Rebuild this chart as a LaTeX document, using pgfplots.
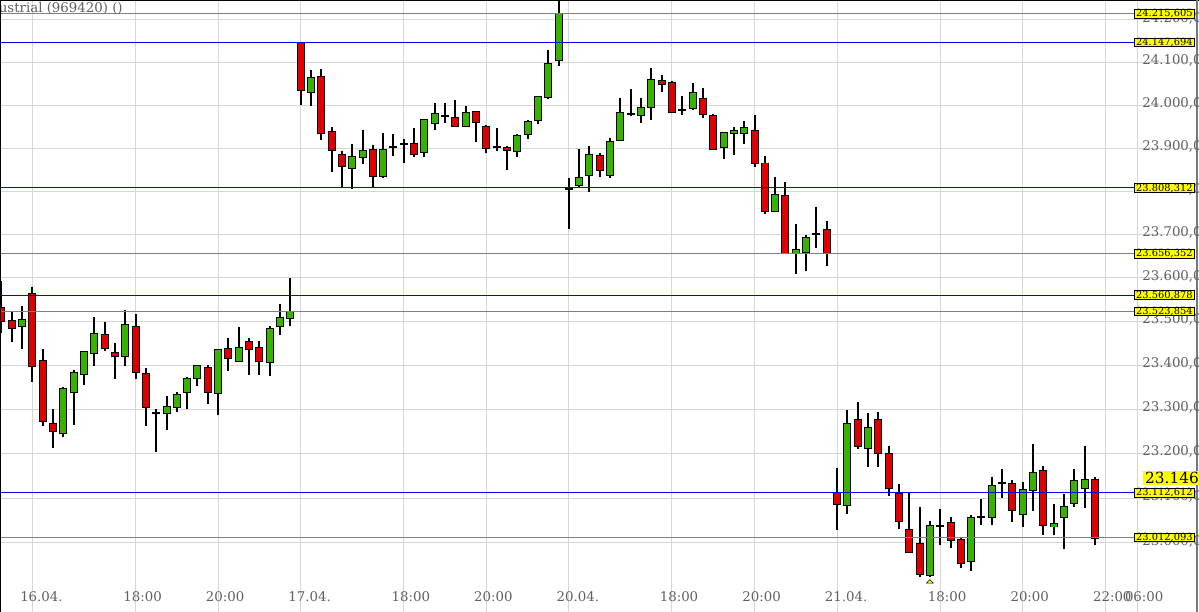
\documentclass[border=0pt]{standalone}
\usepackage{pgfplots}
\pgfplotsset{compat=1.18}
\usepackage{pgfplotstable}
\usepackage{fontspec}
\setmainfont{DejaVu Serif}
\definecolor{upgreen}{RGB}{56,178,0}
\definecolor{downred}{RGB}{222,0,0}
\definecolor{lvlblue}{RGB}{0,0,235}
\definecolor{lvlgray}{RGB}{128,128,128}
\definecolor{gridgray}{RGB}{214,214,214}
\definecolor{txtgray}{RGB}{95,95,95}
\definecolor{boxyellow}{RGB}{255,255,0}
\definecolor{framegray}{RGB}{120,120,120}

% OHLC, 15-minute candles (index x)
\pgfplotstableread{
x o h l c
0 23532 23594 23474 23503
1 23503 23524 23453 23487
2 23490 23536 23437 23505
3 23563 23581 23362 23400
4 23410 23438 23263 23275
5 23269 23301 23214 23252
6 23248 23351 23238 23348
7 23341 23392 23265 23384
8 23382 23433 23357 23432
9 23430 23511 23400 23473
10 23470 23500 23434 23440
11 23430 23451 23371 23421
12 23423 23528 23400 23494
13 23488 23519 23371 23386
14 23382 23395 23264 23306
15 23292 23302 23204 23292
16 23292 23331 23254 23306
17 23306 23340 23296 23334
18 23340 23375 23302 23371
19 23372 23401 23355 23399
20 23395 23401 23313 23341
21 23338 23438 23288 23436
22 23437 23463 23388 23417
23 23411 23488 23407 23442
24 23454 23463 23380 23437
25 23440 23457 23380 23411
26 23409 23490 23376 23484
27 23492 23540 23470 23509
28 23509 23600 23491 23524
29 24146 24149 24001 24037
30 24033 24082 24000 24065
31 24067 24086 23919 23936
32 23938 23949 23845 23896
33 23886 23895 23810 23860
34 23855 23911 23806 23881
35 23880 23943 23864 23894
36 23896 23907 23810 23836
37 23836 23936 23832 23896
38 23904 23933 23882 23904
39 23910 23922 23866 23910
40 23910 23947 23879 23887
41 23892 23969 23879 23966
42 23959 24005 23943 23980
43 23975 24005 23960 23975
44 23970 24014 23949 23953
45 23952 23999 23949 23982
46 23984 23987 23915 23961
47 23950 23954 23889 23901
48 23904 23948 23893 23904
49 23901 23906 23850 23896
50 23894 23933 23880 23929
51 23933 23966 23922 23961
52 23966 24020 23958 24020
53 24020 24131 24016 24097
54 24107 24260 24093 24215
55 23805 23832 23714 23805
56 23815 23899 23811 23832
57 23839 23906 23799 23886
58 23883 23890 23834 23849
59 23839 23925 23832 23916
60 23919 24018 23919 23983
61 23980 24038 23975 23980
62 23978 24018 23959 23994
63 23997 24087 23966 24059
64 24057 24073 24033 24050
65 24052 24057 23983 23984
66 23989 24023 23977 23989
67 23993 24053 23990 24029
68 24015 24041 23970 23980
69 23976 23980 23896 23898
70 23903 23937 23876 23935
71 23935 23950 23885 23940
72 23936 23963 23910 23948
73 23940 23977 23857 23865
74 23865 23882 23749 23755
75 23755 23835 23753 23792
76 23789 23821 23659 23659
77 23659 23725 23610 23666
78 23661 23699 23618 23694
79 23701 23764 23670 23701
80 23712 23733 23629 23657
81 23111 23168 23029 23087
82 23085 23299 23065 23268
83 23277 23317 23211 23217
84 23214 23292 23170 23259
85 23277 23294 23172 23202
86 23200 23219 23105 23123
87 23110 23132 23031 23049
88 23029 23111 22980 22981
89 22999 23080 22924 22931
90 22929 23050 22924 23038
91 23038 23076 22995 23038
92 23044 23059 22990 23006
93 23006 23012 22944 22956
94 22960 23062 22938 23056
95 23058 23099 23040 23058
96 23058 23149 23041 23128
97 23135 23166 23100 23135
98 23132 23141 23046 23074
99 23065 23138 23035 23119
100 23120 23223 23071 23157
101 23162 23173 23017 23040
102 23037 23087 23017 23042
103 23058 23110 22986 23081
104 23089 23166 23080 23139
105 23123 23219 23078 23141
106 23141 23149 22995 23011
}\candles

% horizontal levels
\pgfplotstableread{
v lab
24215.605 {24.215,605}
24147.694 {24.147,694}
23808.312 {23.808,312}
23656.352 {23.656,352}
23560.878 {23.560,878}
23523.854 {23.523,854}
23112.612 {23.112,612}
23012.093 {23.012,093}
}\levels

% price scale
\pgfplotstableread{
v lab
24200 {24.200,0}
24100 {24.100,0}
24000 {24.000,0}
23900 {23.900,0}
23800 {23.800,0}
23700 {23.700,0}
23600 {23.600,0}
23500 {23.500,0}
23400 {23.400,0}
23300 {23.300,0}
23200 {23.200,0}
23100 {23.100,0}
23000 {23.000,0}
}\scale

\tikzset{
  lvlbox/.style={anchor=west, fill=boxyellow, draw=black, line width=0.75pt,
    font=\fontsize{7.4}{8}\selectfont, text=black, inner xsep=1.2pt, inner ysep=0.4pt,
    text height=5.2pt, text depth=0.6pt, minimum width=44.25pt},
  ylab/.style={anchor=base west, yshift=-1.5pt, inner sep=0pt, text=txtgray,
    font=\fontsize{10}{12}\selectfont},
  xlab/.style={anchor=base west, inner sep=0pt, text=txtgray,
    font=\fontsize{10}{12}\selectfont},
}
\pgfplotsset{nomark/.style={only marks, mark=*, mark size=0pt, mark options={draw=none, fill=none}}}

\begin{document}
\begin{tikzpicture}
\begin{axis}[
  scale only axis, width=899.25pt, height=459pt,
  xmin=-0.145, xmax=116.09,
  % price axis is logarithmic: y = 1000 ln(price)
  ymin=10036.507, ymax=10096.046,
  axis line style={draw=none},
  tick style={draw=none},
  xtick={3,13,21,29,39,47,55,65,73,81,91,99,107,110.1},
  ytick={10043.250,10047.588,10051.908,10056.209,10060.491,10064.756,10069.002,10073.230,10077.441,10081.634,10085.809,10089.967,10094.108},
  xticklabels={}, yticklabels={},
  grid=major, major grid style={gridgray, line width=0.75pt},
]
% wicks
\addplot[nomark, error bars/.cd, y dir=minus, y explicit, error mark=none,
  error bar style={line width=1.5pt, black}]
  table[x=x, y expr={1000*ln(\thisrow{h})},
        y error expr={1000*(ln(\thisrow{h})-ln(\thisrow{l}))}] {\candles};
% body outline
\addplot[nomark, error bars/.cd, y dir=minus, y explicit, error mark=none,
  error bar style={line width=6pt, black}]
  table[x=x, y expr={1000*ln(max(\thisrow{o},\thisrow{c}))+0.0973},
        y error expr={1000*abs(ln(\thisrow{o})-ln(\thisrow{c}))+0.1946}] {\candles};
% up bodies
\addplot[nomark, restrict expr to domain={\thisrow{c}-\thisrow{o}}{0.5:100000},
  error bars/.cd, y dir=minus, y explicit, error mark=none,
  error bar style={line width=4.5pt, upgreen}]
  table[x=x, y expr={1000*ln(\thisrow{c})},
        y error expr={1000*(ln(\thisrow{c})-ln(\thisrow{o}))}] {\candles};
% down bodies
\addplot[nomark, restrict expr to domain={\thisrow{c}-\thisrow{o}}{-100000:-0.5},
  error bars/.cd, y dir=minus, y explicit, error mark=none,
  error bar style={line width=4.5pt, downred}]
  table[x=x, y expr={1000*ln(\thisrow{o})},
        y error expr={1000*(ln(\thisrow{o})-ln(\thisrow{c}))}] {\candles};
% low marker
\addplot[only marks, mark=triangle*, mark size=3pt,
  mark options={fill=boxyellow, draw=none, yscale=0.6}]
  table[row sep=\\, x=x, y expr={1000*ln(\thisrow{v})}] {x v\\ 90 22913\\};
% level lines
\addplot[lvlgray, line width=0.75pt] table[row sep=\\, x=x, y expr={1000*ln(\thisrow{v})}] {x v\\ -1 24215.605\\ 109.8 24215.605\\};
\addplot[lvlblue, line width=0.75pt] table[row sep=\\, x=x, y expr={1000*ln(\thisrow{v})}] {x v\\ -1 24147.694\\ 109.8 24147.694\\};
\addplot[lvlblue, line width=0.75pt] table[row sep=\\, x=x, y expr={1000*ln(\thisrow{v})}] {x v\\ -1 23808.312\\ 109.8 23808.312\\};
\addplot[lvlgray, line width=0.75pt] table[row sep=\\, x=x, y expr={1000*ln(\thisrow{v})}] {x v\\ -1 23656.352\\ 109.8 23656.352\\};
\addplot[lvlblue, line width=0.75pt] table[row sep=\\, x=x, y expr={1000*ln(\thisrow{v})}] {x v\\ -1 23560.878\\ 109.8 23560.878\\};
\addplot[lvlgray, line width=0.75pt] table[row sep=\\, x=x, y expr={1000*ln(\thisrow{v})}] {x v\\ -1 23523.854\\ 109.8 23523.854\\};
\addplot[lvlblue, line width=0.75pt] table[row sep=\\, x=x, y expr={1000*ln(\thisrow{v})}] {x v\\ -1 23112.612\\ 109.8 23112.612\\};
\addplot[lvlgray, line width=0.75pt] table[row sep=\\, x=x, y expr={1000*ln(\thisrow{v})}] {x v\\ -1 23012.093\\ 109.8 23012.093\\};
% price scale labels
\addplot[nomark, point meta=explicit symbolic, nodes near coords,
  nodes near coords style={ylab}]
  table[x expr=110.57, y expr={1000*ln(\thisrow{v})}, meta=lab] {\scale};
% level boxes
\addplot[nomark, point meta=explicit symbolic, nodes near coords,
  nodes near coords style={lvlbox}]
  table[x expr=109.79, y expr={1000*ln(\thisrow{v})}, meta=lab] {\levels};
% last price box
\addplot[nomark, point meta=explicit symbolic, nodes near coords,
  nodes near coords style={anchor=west, fill=boxyellow, text=black, inner xsep=1.7pt, inner ysep=1.2pt,
  text height=8.3pt, text depth=0.5pt, font=\fontsize{11.5}{13}\selectfont}]
  table[row sep=\\, x=x, y expr={1000*ln(\thisrow{v})}, meta=lab] {x v lab\\ 110.63 23146 {23.146,}\\};

% x labels
\node[xlab] at (rel axis cs:0.01668,0.01634) {16.04.};
\node[xlab] at (rel axis cs:0.10271,0.01634) {18:00};
\node[xlab] at (rel axis cs:0.17154,0.01634) {20:00};
\node[xlab] at (rel axis cs:0.24036,0.01634) {17.04.};
\node[xlab] at (rel axis cs:0.32639,0.01634) {18:00};
\node[xlab] at (rel axis cs:0.39521,0.01634) {20:00};
\node[xlab] at (rel axis cs:0.46404,0.01634) {20.04.};
\node[xlab] at (rel axis cs:0.55007,0.01634) {18:00};
\node[xlab] at (rel axis cs:0.61890,0.01634) {20:00};
\node[xlab] at (rel axis cs:0.68772,0.01634) {21.04.};
\node[xlab] at (rel axis cs:0.77375,0.01634) {18:00};
\node[xlab] at (rel axis cs:0.84258,0.01634) {20:00};
\node[xlab] at (rel axis cs:0.91140,0.01634) {22:00};
\node[xlab] at (rel axis cs:0.93807,0.01634) {06:00};

% title
\node[anchor=base east, inner sep=0pt, text=txtgray, font=\fontsize{10}{12}\selectfont]
  at (rel axis cs:0.10259,0.97958) {Dow Jones Industrial (969420) ()};

% frame
\draw[black, line width=0.75pt] (rel axis cs:0.000417,0) -- (rel axis cs:0.000417,1);
\draw[black, line width=0.75pt] (rel axis cs:0,0.99918) -- (rel axis cs:1,0.99918);
\draw[framegray, line width=1.5pt] (rel axis cs:0.99858,0) -- (rel axis cs:0.99858,1);
\end{axis}
\pgfresetboundingbox
\path (current axis.south west) rectangle (current axis.north east);
\end{tikzpicture}
\end{document}
